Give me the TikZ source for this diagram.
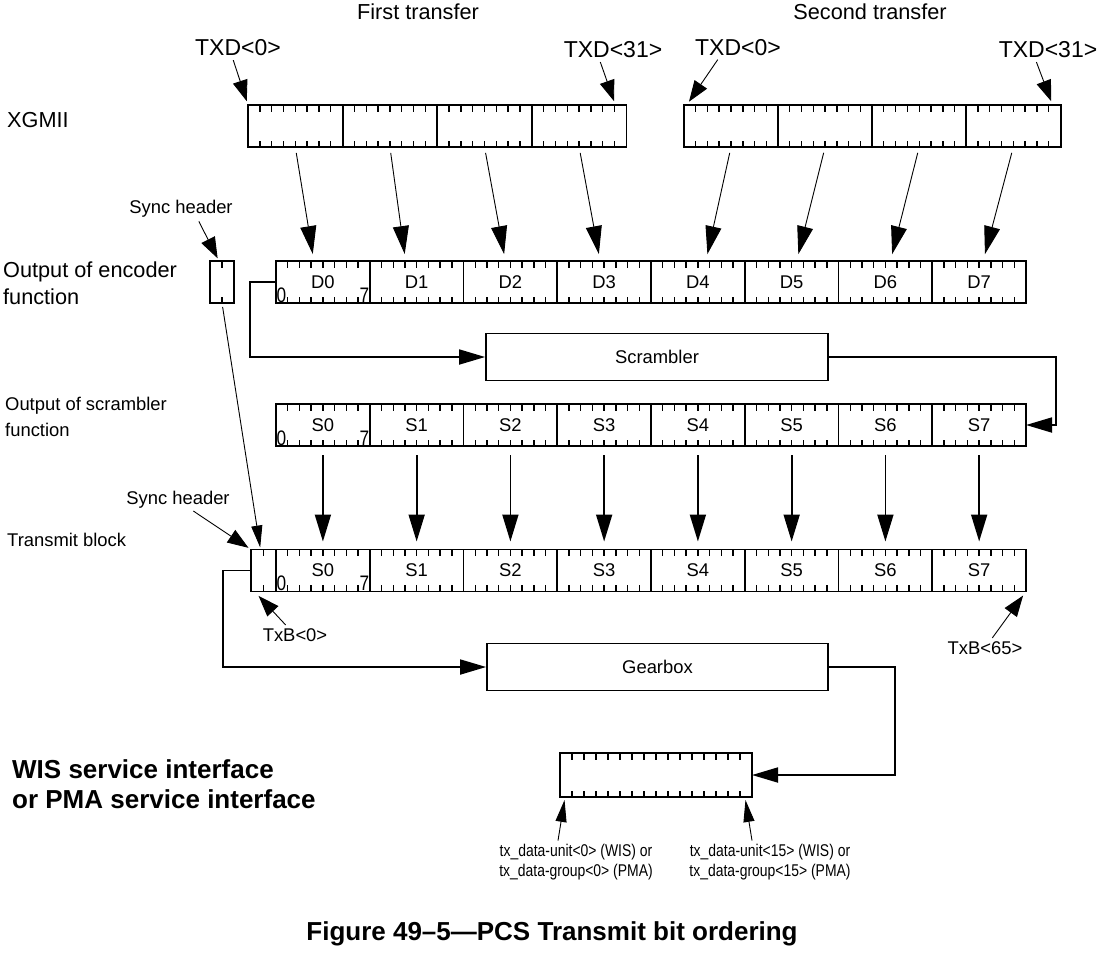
\documentclass[tikz,border=0pt]{standalone}
\usepackage{fontspec}
\setmainfont{Liberation Sans}
\newfontfamily\narrowfont{Liberation Sans}[FakeStretch=0.82]
\usetikzlibrary{arrows.meta,positioning,calc}

\newcommand{\bigfont}{\fontsize{21.7pt}{27pt}\selectfont}
\newcommand{\txdfont}{\fontsize{23pt}{27pt}\selectfont}
\newcommand{\midfont}{\fontsize{18.4pt}{26pt}\selectfont}
\newcommand{\smallfont}{\narrowfont\fontsize{17pt}{20pt}\selectfont}
\newcommand{\headfont}{\bfseries\fontsize{26pt}{30pt}\selectfont}

% bit marks along the top and bottom of a cell
\newcommand{\bitticks}[2]{%
  \pgfmathtruncatemacro{\lastbit}{#2-1}%
  \foreach \k in {1,...,\lastbit}{
    \draw[bittick] ($(#1.north west)!\k/#2!(#1.north east)$) -- ++(0,6.5);
    \draw[bittick] ($(#1.south west)!\k/#2!(#1.south east)$) -- ++(0,-6.5);
  }%
}

\tikzset{
  bitcell/.style={draw, rectangle, line width=1.8pt, inner sep=0pt, outer sep=0pt,
    minimum height=42pt, font=\midfont},
  bytecell/.style={bitcell, minimum width=93.75pt},
  wordcell/.style={bitcell, minimum width=94.6pt},
  funcbox/.style={draw, rectangle, line width=1.8pt, minimum width=342pt,
    minimum height=47pt, font=\midfont},
  bittick/.style={line width=1.4pt},
  bitno/.style={font=\narrowfont\fontsize{21pt}{21pt}\selectfont, inner sep=0.5pt},
  lbl/.style={inner sep=0pt, align=left},
  bigarrow/.style={-{Triangle[length=28pt,width=16pt]}, line width=0.9pt},
  downarrow/.style={-{Triangle[length=27pt,width=16pt]}, line width=1.8pt},
  feed/.style={-{Triangle[length=26pt,width=15pt]}, line width=1.8pt},
  pointer/.style={-{Triangle[length=21pt,width=15pt]}, line width=0.9pt},
  slimpointer/.style={-{Triangle[length=22pt,width=11pt]}, line width=0.9pt}
}

\begin{document}
\begin{tikzpicture}[x=1pt, y=-1pt]
    \useasboundingbox (0,0) rectangle (1102,954);

    % XGMII (two transfers)
    \node[font=\bigfont] (firstT) at (418,12) {First transfer};
    \node[font=\bigfont] (secondT) at (870,12) {Second transfer};
    \node[lbl, font=\bigfont, anchor=west] (xgmii) at (7,120) {XGMII};
    \foreach \i in {0,...,3}{
        \node[wordcell] (xa\i) at (295.3+94.6*\i,126) {};
        \node[wordcell] (xb\i) at (731+94.1*\i,126) {};
        \bitticks{xa\i}{8}
        \bitticks{xb\i}{8}
    }
    \node[font=\txdfont, inner sep=0pt] (txdA0) at (238,48) {TXD<0>};
    \node[font=\txdfont, inner sep=0pt] (txdA31) at (613,50) {TXD<31>};
    \node[font=\txdfont, inner sep=0pt] (txdB0) at (738,48) {TXD<0>};
    \node[font=\txdfont, inner sep=0pt] (txdB31) at (1048,50) {TXD<31>};
    \draw[pointer, shorten <=4pt, shorten >=4pt] ([xshift=-6pt]txdA0.south) -- (xa0.north west);
    \draw[pointer, shorten <=4pt, shorten >=4pt] ([xshift=-14pt]txdA31.south) -- ([xshift=-11pt]xa3.north east);
    \draw[pointer, shorten <=4pt, shorten >=4pt] ([xshift=-18pt]txdB0.south) -- ([xshift=3pt]xb0.north west);
    \draw[pointer, shorten <=4pt, shorten >=4pt] ([xshift=-13pt]txdB31.south) -- ([xshift=-8pt]xb3.north east);

    % Output of encoder
    \node[lbl, font=\bigfont, anchor=west] (encLbl) at (3,283) {Output of encoder\\function};
    \node[bitcell, minimum width=24pt] (syncA) at (222,282) {};
    \bitticks{syncA}{2}
    \node[font=\midfont, inner sep=0pt] (syncLblA) at (181,209) {Sync header};
    \draw[pointer, shorten <=4pt, shorten >=3pt] ([xshift=16pt]syncLblA.south) -- ([xshift=-3pt]syncA.north);
    \foreach \i in {0,...,7}{
        \node[bytecell] (d\i) at (322.9+93.75*\i,282) {D\i};
        \bitticks{d\i}{8}
    }
    \node[bitno, anchor=south west] at (d0.south west) {0};
    \node[bitno, anchor=south east] at (d0.south east) {7};

    % XGMII to encoder
    \foreach \a/\b/\dx in {xa0/d0/-9, xa1/d1/-11, xa2/d2/-5, xa3/d3/-4,
                          xb0/d4/8, xb1/d5/5, xb2/d6/5, xb3/d7/4}
        \draw[bigarrow, shorten <=6pt, shorten >=7pt] (\a.south) -- ([xshift=\dx pt]\b.north);

    % Scrambler
    \node[funcbox] (scr) at (657,357) {Scrambler};
    \draw[feed] (d0.west) -- ++(-26,0) |- (scr.west);

    % Output of scrambler
    \node[lbl, font=\midfont, anchor=west] (scrLbl) at (5,417) {Output of scrambler\\function};
    \foreach \i in {0,...,7}{
        \node[bytecell] (s\i) at (322.9+93.75*\i,425) {S\i};
        \bitticks{s\i}{8}
    }
    \node[bitno, anchor=south west] at (s0.south west) {0};
    \node[bitno, anchor=south east] at (s0.south east) {7};
    \draw[feed] (scr.east) -| ([xshift=30pt]s7.east) -- (s7.east);

    % Transmit block
    \node[lbl, font=\midfont, anchor=west] (txLbl) at (7,540) {Transmit block};
    \node[bitcell, minimum width=25pt] (syncB) at (263.5,570.5) {};
    \bitticks{syncB}{2}
    \foreach \i in {0,...,7}{
        \node[bytecell] (t\i) at (322.9+93.75*\i,570.5) {S\i};
        \bitticks{t\i}{8}
        \draw[downarrow, shorten <=9pt, shorten >=8pt] (s\i.south) -- (t\i.north);
    }
    \node[bitno, anchor=south west] at (t0.south west) {0};
    \node[bitno, anchor=south east] at (t0.south east) {7};
    \node[font=\midfont, inner sep=0pt] (syncLblB) at (178,500) {Sync header};
    \draw[pointer, shorten <=4pt, shorten >=3pt] ([xshift=12pt]syncLblB.south) -- (syncB.north west);
    \draw[slimpointer, shorten <=4pt, shorten >=2pt] (syncA.south) -- ([xshift=-3pt]syncB.north);
    \node[font=\midfont] (txb0) at (295,635) {TxB<0>};
    \node[font=\midfont] (txb65) at (985,648) {TxB<65>};
    \draw[pointer, shorten >=6pt] (txb0) -- ([xshift=-9pt]syncB.south);
    \draw[pointer, shorten >=5pt] (txb65) -- (t7.south east);

    % Gearbox
    \node[funcbox, minimum width=341pt] (gear) at (657.5,667) {Gearbox};
    \draw[feed] (syncB.west) -- ++(-28,0) |- (gear.west);

    % WIS / PMA service interface
    \node[lbl, font=\headfont, anchor=west] (wisLbl) at (12,784) {WIS service interface\\or PMA service interface};
    \node[bitcell, minimum width=192pt, minimum height=44pt] (reg) at (656,775) {};
    \bitticks{reg}{16}
    \draw[feed] (gear.east) -| ([xshift=143pt]reg.east) -- (reg.east);
    \node[font=\smallfont, align=center] (txLo) at (576,862) {tx\_data-unit<0> (WIS) or\\tx\_data-group<0> (PMA)};
    \node[font=\smallfont, align=center] (txHi) at (770,862) {tx\_data-unit<15> (WIS) or\\tx\_data-group<15> (PMA)};
    \draw[slimpointer, shorten >=3pt] ([xshift=-18pt]txLo.north) -- ([xshift=5pt]reg.south west);
    \draw[slimpointer, shorten >=3pt] ([xshift=-18pt]txHi.north) -- ([xshift=-7pt]reg.south east);

    % Caption
    \node[font=\headfont] (caption) at (552,934) {Figure 49–5—PCS Transmit bit ordering};
\end{tikzpicture}
\end{document}
